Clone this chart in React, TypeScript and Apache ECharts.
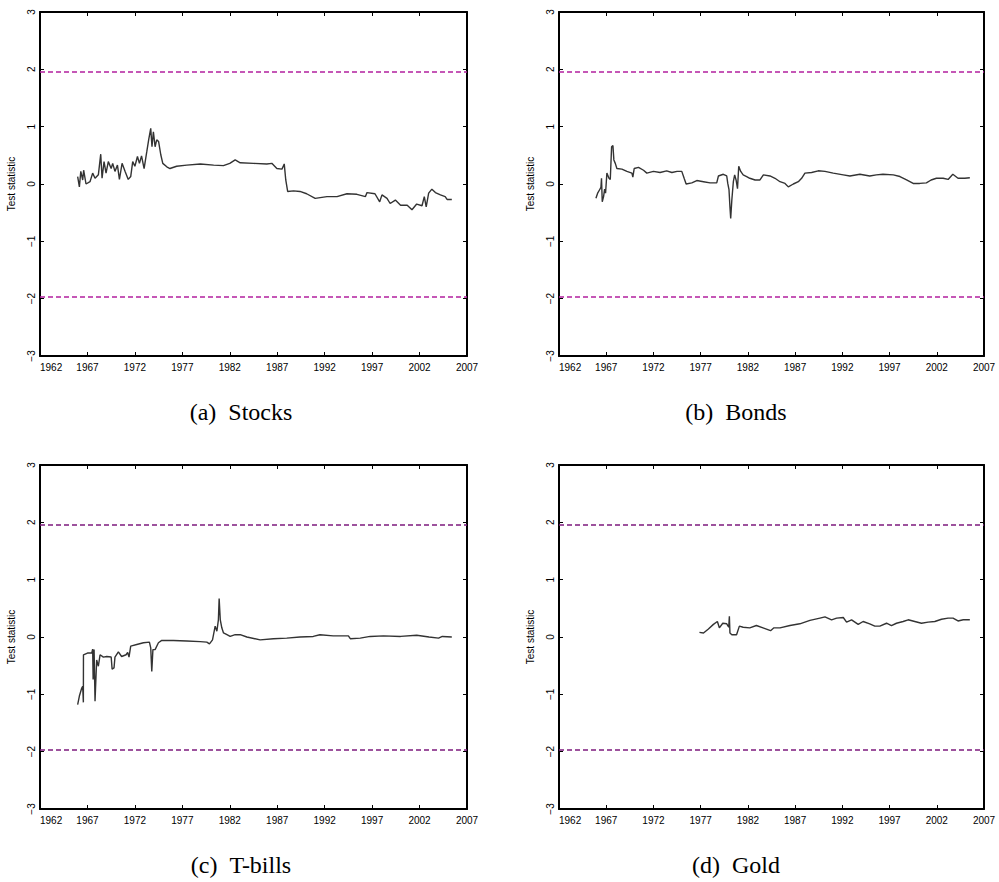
import React, { useEffect, useRef } from "react";
import * as echarts from "echarts";

// Year ticks / axis range
const xMin = 1962;
const xMax = 2007;
const xStep = 5;
const yMin = -3;
const yMax = 3;
const critical = [1.96, -1.96];

const captions = ["(a)\u2002Stocks", "(b)\u2002Bonds", "(c)\u2002T-bills", "(d)\u2002Gold"];

// [year, test statistic]
const stocks: [number, number][] = [
  [1965.97, 0.13], [1966.15, -0.05], [1966.3, 0.22], [1966.5, 0.07], [1966.6, 0.24], [1966.85, 0.0],
  [1967.27, 0.04], [1967.55, 0.19], [1967.8, 0.1], [1968.15, 0.16], [1968.4, 0.52], [1968.54, 0.1],
  [1968.75, 0.39], [1968.96, 0.19], [1969.2, 0.39], [1969.5, 0.27], [1969.66, 0.36], [1969.9, 0.22],
  [1970.16, 0.33], [1970.37, 0.08], [1970.65, 0.36], [1970.97, 0.22], [1971.3, 0.08], [1971.56, 0.13],
  [1971.77, 0.39], [1972.0, 0.31], [1972.27, 0.48], [1972.48, 0.36], [1972.7, 0.49], [1972.97, 0.27],
  [1973.25, 0.56], [1973.46, 0.78], [1973.67, 0.97], [1973.8, 0.65], [1973.95, 0.91], [1974.13, 0.65],
  [1974.3, 0.77], [1974.5, 0.74], [1974.73, 0.51], [1974.94, 0.36], [1975.36, 0.3], [1975.7, 0.27],
  [1976.4, 0.31], [1977.47, 0.33], [1978.9, 0.35], [1980.3, 0.33], [1981.33, 0.32], [1982.0, 0.36],
  [1982.57, 0.42], [1983.1, 0.37], [1984.5, 0.36], [1985.9, 0.35], [1986.43, 0.36], [1986.96, 0.27],
  [1987.5, 0.26], [1987.74, 0.35], [1987.9, 0.07], [1988.1, -0.13], [1988.72, -0.12], [1989.4, -0.13],
  [1990.1, -0.17], [1991.0, -0.25], [1992.24, -0.22], [1993.3, -0.22], [1994.35, -0.17], [1995.4, -0.18],
  [1996.3, -0.22], [1996.46, -0.15], [1997.3, -0.17], [1997.8, -0.31], [1998.04, -0.19], [1998.57, -0.25],
  [1998.9, -0.34], [1999.45, -0.28], [2000.0, -0.37], [2000.7, -0.37], [2001.2, -0.45], [2001.7, -0.35],
  [2002.26, -0.38], [2002.5, -0.22], [2002.7, -0.4], [2002.96, -0.16], [2003.3, -0.09], [2003.67, -0.15],
  [2004.2, -0.19], [2004.7, -0.22], [2004.9, -0.27], [2005.4, -0.27],
];

const bonds: [number, number][] = [
  [1965.91, -0.25], [1966.09, -0.16], [1966.3, -0.1], [1966.44, -0.06], [1966.5, 0.1], [1966.58, -0.31],
  [1966.72, -0.22], [1966.83, -0.09], [1966.93, -0.16], [1967.07, 0.19], [1967.29, 0.1], [1967.43, 0.08],
  [1967.57, 0.65], [1967.71, 0.67], [1967.81, 0.42], [1967.96, 0.36], [1968.13, 0.27], [1968.66, 0.26],
  [1969.19, 0.22], [1969.72, 0.19], [1969.82, 0.12], [1969.96, 0.27], [1970.42, 0.29], [1970.95, 0.24],
  [1971.3, 0.19], [1972.0, 0.22], [1972.7, 0.2], [1973.4, 0.23], [1973.95, 0.2], [1974.5, 0.22],
  [1975.0, 0.22], [1975.25, 0.1], [1975.46, 0.0], [1976.06, 0.02], [1976.59, 0.06], [1977.3, 0.04],
  [1978.0, 0.02], [1978.7, 0.02], [1978.88, 0.14], [1979.4, 0.17], [1979.76, 0.14], [1979.87, 0.01],
  [1980.0, -0.1], [1980.1, -0.4], [1980.18, -0.6], [1980.3, -0.28], [1980.46, 0.04], [1980.6, 0.16],
  [1980.75, 0.07], [1980.9, -0.08], [1981.03, 0.31], [1981.24, 0.22], [1981.5, 0.16], [1981.87, 0.13],
  [1982.2, 0.1], [1982.76, 0.07], [1983.28, 0.07], [1983.64, 0.16], [1984.34, 0.14], [1984.87, 0.1],
  [1985.4, 0.04], [1985.93, 0.01], [1986.28, -0.05], [1986.81, 0.0], [1987.34, 0.04], [1987.69, 0.1],
  [1988.04, 0.19], [1988.75, 0.2], [1989.45, 0.23], [1990.16, 0.22], [1991.04, 0.19], [1992.1, 0.16],
  [1992.8, 0.14], [1993.86, 0.17], [1994.9, 0.14], [1995.6, 0.16], [1996.3, 0.17], [1997.4, 0.16],
  [1998.1, 0.13], [1998.8, 0.07], [1999.5, 0.01], [2000.2, 0.01], [2000.9, 0.02], [2001.4, 0.07],
  [2001.96, 0.1], [2002.67, 0.1], [2003.2, 0.08], [2003.7, 0.17], [2004.25, 0.1], [2004.96, 0.1],
  [2005.5, 0.11],
];

const tbills: [number, number][] = [
  [1965.97, -1.18], [1966.15, -1.03], [1966.4, -0.89], [1966.5, -0.86], [1966.57, -1.14], [1966.58, -0.31],
  [1967.0, -0.28], [1967.45, -0.28], [1967.55, -0.21], [1967.6, -0.74], [1967.7, -0.22], [1967.8, -1.12],
  [1967.97, -0.4], [1968.15, -0.51], [1968.33, -0.31], [1968.68, -0.35], [1969.03, -0.34], [1969.5, -0.35],
  [1969.6, -0.56], [1969.8, -0.54], [1969.9, -0.35], [1970.26, -0.26], [1970.6, -0.34], [1971.07, -0.31],
  [1971.24, -0.27], [1971.38, -0.35], [1971.56, -0.16], [1972.2, -0.13], [1972.9, -0.1], [1973.53, -0.09],
  [1973.67, -0.19], [1973.78, -0.6], [1973.9, -0.22], [1974.13, -0.22], [1974.48, -0.1], [1974.83, -0.06],
  [1976.06, -0.06], [1977.47, -0.07], [1978.88, -0.08], [1979.58, -0.09], [1979.86, -0.12], [1980.18, -0.05],
  [1980.46, 0.19], [1980.64, 0.1], [1980.8, 0.3], [1980.88, 0.67], [1981.0, 0.3], [1981.16, 0.16],
  [1981.34, 0.07], [1981.7, 0.04], [1982.04, 0.01], [1982.57, 0.04], [1983.1, 0.04], [1983.8, 0.0],
  [1985.2, -0.05], [1986.6, -0.03], [1988.0, -0.02], [1989.4, 0.0], [1990.8, 0.01], [1991.5, 0.04],
  [1992.9, 0.02], [1994.5, 0.02], [1994.7, -0.03], [1995.75, -0.02], [1996.8, 0.01], [1998.2, 0.02],
  [2000.0, 0.01], [2001.7, 0.03], [2003.0, 0.0], [2004.0, -0.02], [2004.4, 0.01], [2005.4, 0.0],
];

const gold: [number, number][] = [
  [1976.87, 0.08], [1977.3, 0.07], [1977.82, 0.14], [1978.35, 0.22], [1978.77, 0.27], [1978.98, 0.16],
  [1979.34, 0.24], [1979.76, 0.23], [1979.97, 0.17], [1980.04, 0.36], [1980.1, 0.07], [1980.3, 0.04],
  [1980.8, 0.04], [1981.1, 0.19], [1981.5, 0.17], [1982.2, 0.16], [1982.9, 0.2], [1983.6, 0.16],
  [1984.4, 0.11], [1984.76, 0.16], [1985.4, 0.16], [1986.46, 0.2], [1987.5, 0.23], [1988.57, 0.29],
  [1989.63, 0.33], [1990.16, 0.35], [1990.86, 0.3], [1991.4, 0.33], [1992.1, 0.34], [1992.45, 0.26],
  [1992.98, 0.3], [1993.68, 0.22], [1994.2, 0.27], [1994.9, 0.23], [1995.44, 0.19], [1995.97, 0.19],
  [1996.68, 0.24], [1997.2, 0.2], [1997.73, 0.24], [1998.44, 0.27], [1998.97, 0.3], [1999.67, 0.27],
  [2000.38, 0.24], [2001.08, 0.26], [2001.79, 0.27], [2002.5, 0.31], [2003.2, 0.33], [2003.72, 0.33],
  [2004.25, 0.28], [2004.8, 0.3], [2005.5, 0.3],
];

const seriesData = [stocks, bonds, tbills, gold];
const dashColors = ["#b3209f", "#b3209f", "#7d1a7d", "#7d1a7d"];

const grids = [
  { left: 40, top: 12, width: 427, height: 344 },
  { left: 559, top: 12, width: 425, height: 344 },
  { left: 40, top: 465, width: 427, height: 344 },
  { left: 559, top: 465, width: 425, height: 344 },
];
const captionPos = [
  [241, 412],
  [736, 412],
  [241, 865],
  [736, 865],
];

const FONT = "Liberation Sans, Arial, sans-serif";

export default function App() {
  const ref = useRef<HTMLDivElement>(null);
  useEffect(() => {
    if (!ref.current) return;
    const chart = echarts.init(ref.current, undefined, { renderer: "svg" });
    const axisLine = { show: true, onZero: false, lineStyle: { color: "#000", width: 2 } };
    const axisTick = { show: true, inside: true, length: 4, lineStyle: { color: "#000", width: 1 } };
    const xAxis: any[] = [];
    const yAxis: any[] = [];
    const series: any[] = [];
    grids.forEach((g, i) => {
      xAxis.push({
        gridIndex: i, type: "value", min: xMin, max: xMax, interval: xStep, position: "bottom",
        axisLine, axisTick, splitLine: { show: false },
        axisLabel: {
          color: "#000", fontSize: 10, fontFamily: FONT, margin: 6, alignMinLabel: "left",
          showMinLabel: true, showMaxLabel: true, formatter: (v: number) => String(v),
        },
      });
      xAxis.push({
        gridIndex: i, type: "value", min: xMin, max: xMax, interval: xStep, position: "top",
        axisLine, axisTick, splitLine: { show: false }, axisLabel: { show: false },
      });
      yAxis.push({
        gridIndex: i, type: "value", min: yMin, max: yMax, interval: 1, position: "left",
        axisLine, axisTick, splitLine: { show: false },
        axisLabel: {
          color: "#000", fontSize: 10, fontFamily: FONT, margin: 4, rotate: 90,
          formatter: (v: number) => String(v).replace("-", "\u2212"),
        },
        name: "Test statistic", nameLocation: "middle", nameGap: 24,
        nameTextStyle: { color: "#000", fontSize: 10, fontFamily: FONT },
      });
      yAxis.push({
        gridIndex: i, type: "value", min: yMin, max: yMax, interval: 1, position: "right",
        axisLine, axisTick, splitLine: { show: false }, axisLabel: { show: false },
      });
      series.push({
        type: "line", xAxisIndex: i * 2, yAxisIndex: i * 2, data: seriesData[i],
        showSymbol: false, symbol: "none", lineStyle: { color: "#333", width: 1.4 },
        markLine: {
          silent: true, symbol: "none", label: { show: false },
          lineStyle: { color: dashColors[i], type: [5, 3], width: 1.5, opacity: 1 },
          emphasis: { disabled: true },
          data: critical.map((c) => ({ yAxis: c })),
        },
      });
    });
    chart.setOption({
      animation: false,
      backgroundColor: "#fff",
      grid: grids.map((g) => ({ ...g, show: false })),
      xAxis,
      yAxis,
      series,
      graphic: captions.map((t, i) => ({
        type: "text",
        x: captionPos[i][0],
        y: captionPos[i][1],
        style: {
          text: t, fill: "#000", fontSize: 24, fontFamily: "Liberation Serif, Times New Roman, serif",
          textAlign: "center", textVerticalAlign: "middle",
        },
      })),
    });
    return () => chart.dispose();
  }, []);
  return (
    <div
      ref={ref}
      style={{ position: "fixed", left: 0, top: 0, width: 999, height: 882, background: "#fff" }}
    />
  );
}
